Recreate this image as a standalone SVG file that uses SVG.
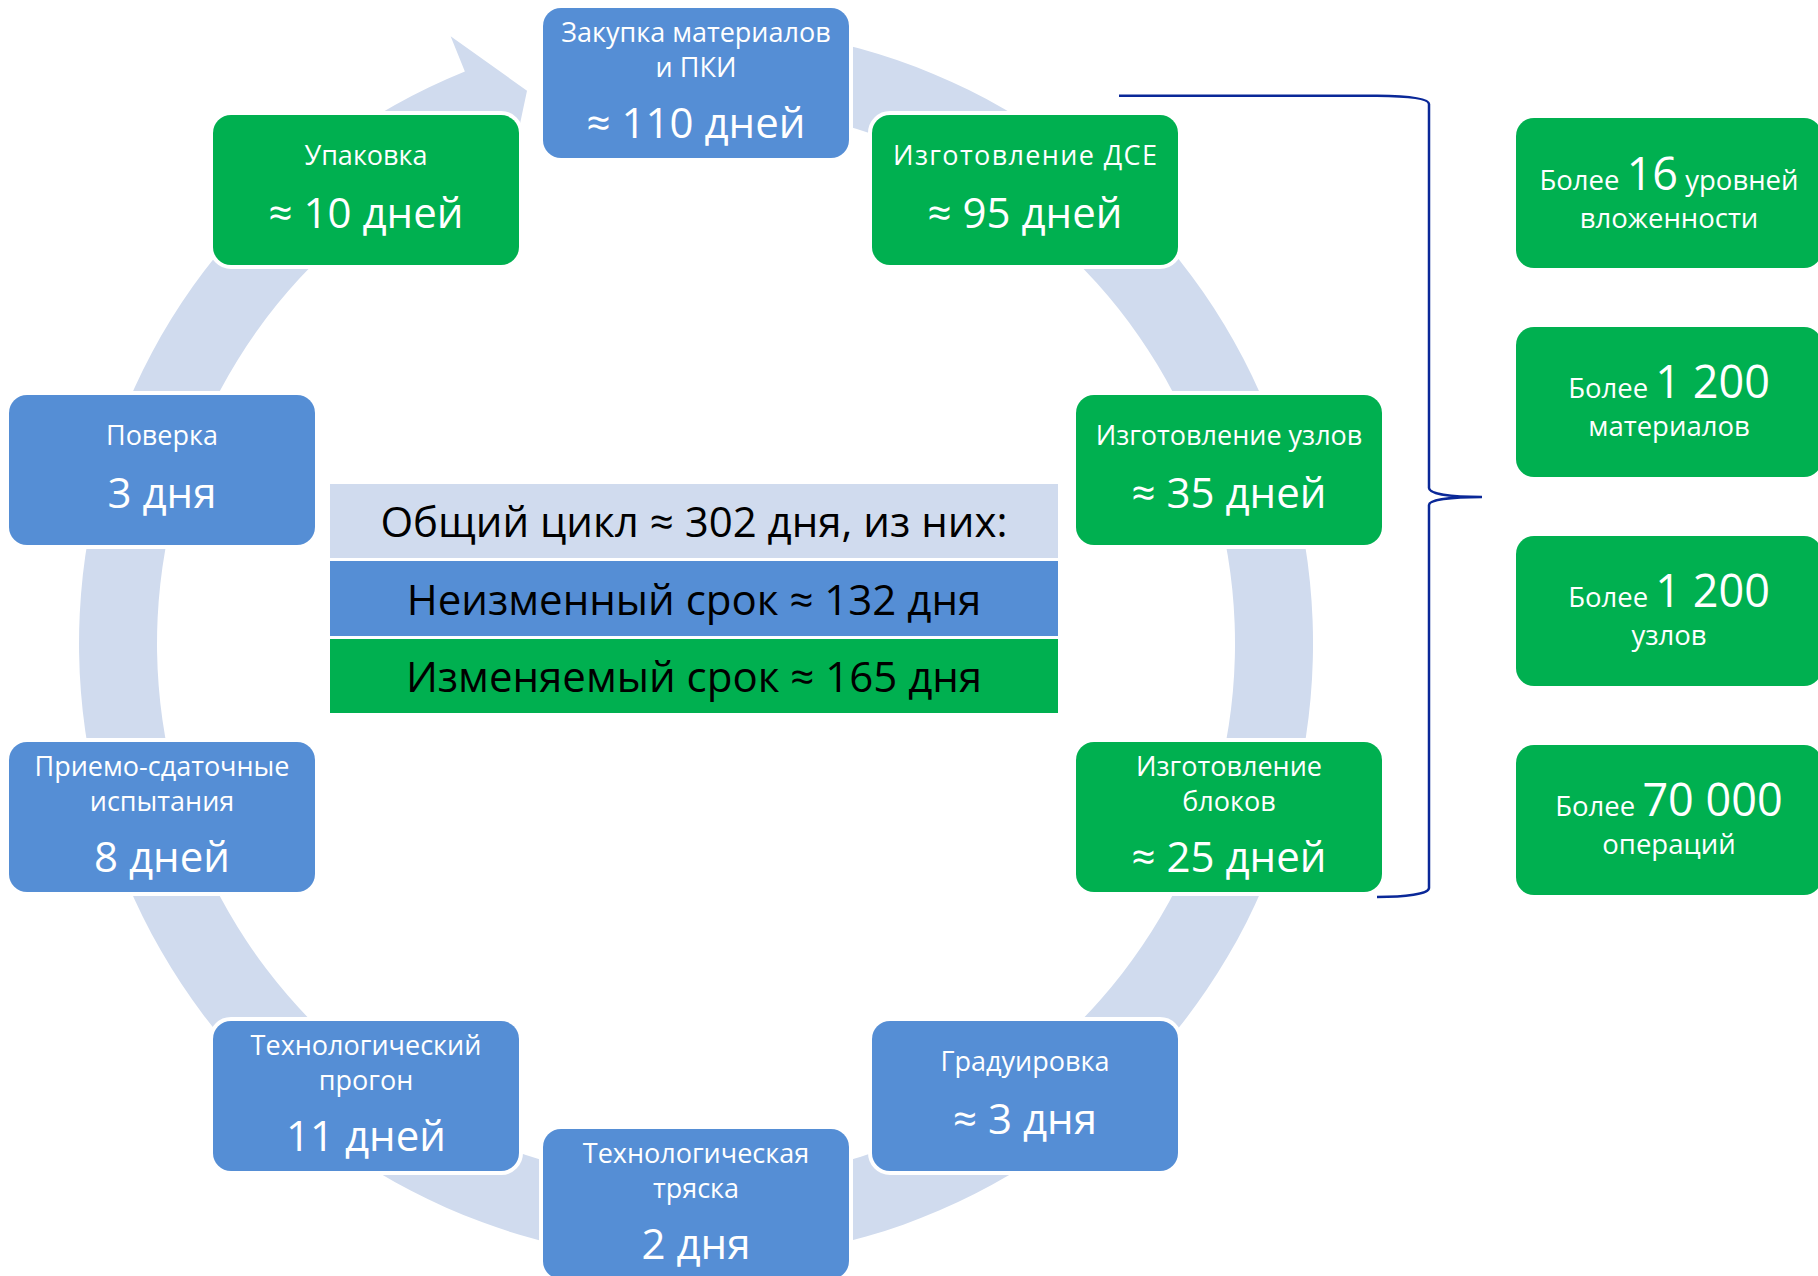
<svg xmlns="http://www.w3.org/2000/svg" width="1818" height="1276" viewBox="0 0 1818 1276">
<style>
  text { font-family: "Open Sans", "Noto Sans", "DejaVu Sans", sans-serif; text-anchor: middle; }
  .node { stroke: #ffffff; stroke-width: 8; paint-order: stroke; }
  .blue { fill: #558ED5; }
  .green { fill: #00B050; }
  .lbl { fill: #ffffff; font-size: 27px; }
  .val { fill: #ffffff; font-size: 42px; }
  .tbl { fill: #000000; font-size: 42px; }
  .sm { fill: #ffffff; font-size: 27.5px; }
  .big { font-size: 45px; }
  .band { fill: #D0DBEE; }
  .brace { fill: none; stroke: #0A2898; stroke-width: 2.5; }
</style>
<rect width="1818" height="1276" fill="#ffffff"/>
<g id="connectors">
  <path class="band" d="M588.86,35.87 A617,617 0 1 1 464.87,71.43 L450.63,36.20 L527.01,90.76 L508.32,178.98 L494.09,143.75 A539,539 0 1 0 602.40,112.69 Z"/>
  <path class="brace" d="M1119,95.7 L1377,95.7 C1405,96 1429,98 1429,104 L1429,488 C1429,494 1450,497 1482,497 C1450,497 1429,500 1429,505 L1429,888 C1429,894 1405,897 1377,897"/>
</g>
<g id="n1"><rect class="node blue" x="543" y="8" width="306" height="150" rx="18"/>
  <text class="lbl" x="696" y="42">Закупка материалов</text><text class="lbl" x="696" y="77">и ПКИ</text><text class="val" x="696" y="138">≈ 110 дней</text></g>
<g id="n2"><rect class="node green" x="872" y="115" width="306" height="150" rx="18"/>
  <text class="lbl" x="1025" y="165" textLength="264" lengthAdjust="spacing">Изготовление ДСЕ</text><text class="val" x="1025" y="228">≈ 95 дней</text></g>
<g id="n3"><rect class="node green" x="1076" y="395" width="306" height="150" rx="18"/>
  <text class="lbl" x="1229" y="445">Изготовление узлов</text><text class="val" x="1229" y="508">≈ 35 дней</text></g>
<g id="n4"><rect class="node green" x="1076" y="742" width="306" height="150" rx="18"/>
  <text class="lbl" x="1229" y="776">Изготовление</text><text class="lbl" x="1229" y="811">блоков</text><text class="val" x="1229" y="872">≈ 25 дней</text></g>
<g id="n5"><rect class="node blue" x="872" y="1021" width="306" height="150" rx="18"/>
  <text class="lbl" x="1025" y="1071">Градуировка</text><text class="val" x="1025" y="1134">≈ 3 дня</text></g>
<g id="n6"><rect class="node blue" x="543" y="1129" width="306" height="150" rx="18"/>
  <text class="lbl" x="696" y="1163">Технологическая</text><text class="lbl" x="696" y="1198">тряска</text><text class="val" x="696" y="1259">2 дня</text></g>
<g id="n7"><rect class="node blue" x="213" y="1021" width="306" height="150" rx="18"/>
  <text class="lbl" x="366" y="1055">Технологический</text><text class="lbl" x="366" y="1090">прогон</text><text class="val" x="366" y="1151">11 дней</text></g>
<g id="n8"><rect class="node blue" x="9" y="742" width="306" height="150" rx="18"/>
  <text class="lbl" x="162" y="776">Приемо-сдаточные</text><text class="lbl" x="162" y="811">испытания</text><text class="val" x="162" y="872">8 дней</text></g>
<g id="n9"><rect class="node blue" x="9" y="395" width="306" height="150" rx="18"/>
  <text class="lbl" x="162" y="445">Поверка</text><text class="val" x="162" y="508">3 дня</text></g>
<g id="n10"><rect class="node green" x="213" y="115" width="306" height="150" rx="18"/>
  <text class="lbl" x="366" y="165">Упаковка</text><text class="val" x="366" y="228">≈ 10 дней</text></g>
<g id="summary">
  <rect x="330" y="484" width="728" height="74" fill="#D0DBEE"/>
  <rect x="330" y="561" width="728" height="75" fill="#558ED5"/>
  <rect x="330" y="639" width="728" height="74" fill="#00B050"/>
  <text class="tbl" x="694" y="537">Общий цикл ≈ 302 дня, из них:</text>
  <text class="tbl" x="694" y="615">Неизменный срок ≈ 132 дня</text>
  <text class="tbl" x="694" y="692">Изменяемый срок ≈ 165 дня</text>
</g>
<g id="r1"><rect class="green" x="1516" y="118" width="306" height="150" rx="18"/>
  <text class="sm" x="1669" y="190">Более <tspan class="big">16</tspan> уровней</text><text class="sm" x="1669" y="228">вложенности</text></g>
<g id="r2"><rect class="green" x="1516" y="327" width="306" height="150" rx="18"/>
  <text class="sm" x="1669" y="398">Более <tspan class="big">1 200</tspan></text><text class="sm" x="1669" y="436">материалов</text></g>
<g id="r3"><rect class="green" x="1516" y="536" width="306" height="150" rx="18"/>
  <text class="sm" x="1669" y="607">Более <tspan class="big">1 200</tspan></text><text class="sm" x="1669" y="645">узлов</text></g>
<g id="r4"><rect class="green" x="1516" y="745" width="306" height="150" rx="18"/>
  <text class="sm" x="1669" y="816">Более <tspan class="big">70 000</tspan></text><text class="sm" x="1669" y="854">операций</text></g>
</svg>
